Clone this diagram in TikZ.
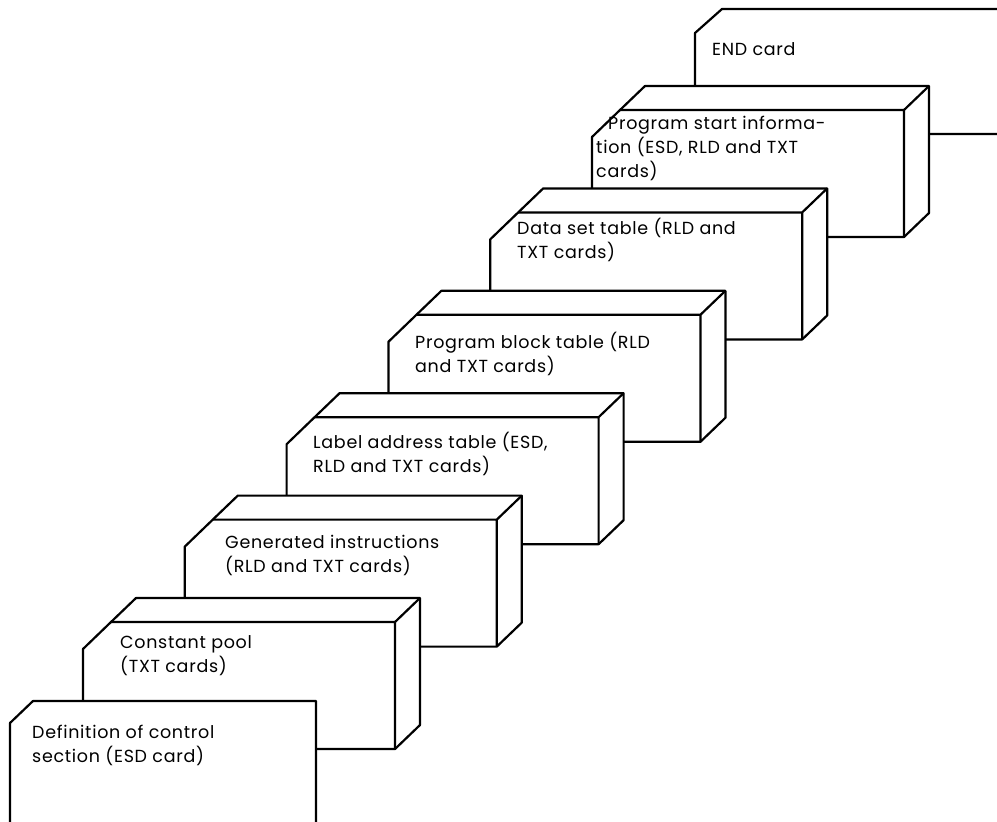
\documentclass[tikz,border=0pt]{standalone}
\usepackage{fontspec}
\setmainfont[LetterSpace=4]{Poppins}
\usetikzlibrary{positioning}
\tikzstyle{deck}=[draw=black, fill=white, line width=2.2pt, line join=round]
\tikzstyle{cardtext}=[anchor=base west, inner sep=0pt, align=left, font=\fontsize{17.5}{24}\selectfont]

\begin{document}
\begin{tikzpicture}[x=1pt, y=-1pt]
      \clip (0,0) rectangle (997,822);
      \fill[white] (0,0) rectangle (997,822);
      \draw[deck] (695,134) -- (695,33) -- (722,9) -- (1010,9) -- (1010,134) -- cycle;
      \foreach \k in {5,4,...,0} {
        \pgfmathsetmacro\L{83+101.8*\k}
        \pgfmathsetmacro\T{622-102.4*\k}
        \begin{scope}[shift={(\L,\T)}]
          \draw[deck] (0,127) -- (0,27) -- (28,0) -- (53,-24) -- (337,-24) -- (337,103) -- (312,127) -- cycle;
          \draw[deck, fill=none] (28,0) -- (312,0) -- (337,-24) (312,0) -- (312,127);
        \end{scope}
      }
      \draw[deck] (10,840) -- (10,723) -- (33,701) -- (316,701) -- (316,840) -- cycle;
      \node (endcard) [cardtext] at (712,55) {END card};
      \node (startinfo) [cardtext] at (596,177) {\hspace*{12pt}Program start informa-\\tion (ESD, RLD and TXT\\cards)};
      \node (dsettab) [cardtext] at (517,258) {Data set table (RLD and\\TXT cards)};
      \node (blocktab) [cardtext] at (415,372) {Program block table (RLD\\and TXT cards)};
      \node (labeltab) [cardtext] at (313,472) {Label address table (ESD,\\RLD and TXT cards)};
      \node (geninstr) [cardtext] at (225,572) {Generated instructions\\(RLD and TXT cards)};
      \node (pool) [cardtext] at (120,672) {Constant pool\\(TXT cards)};
      \node (defcard) [cardtext] at (32,762) {Definition of control\\section (ESD card)};
    \end{tikzpicture}
\end{document}
